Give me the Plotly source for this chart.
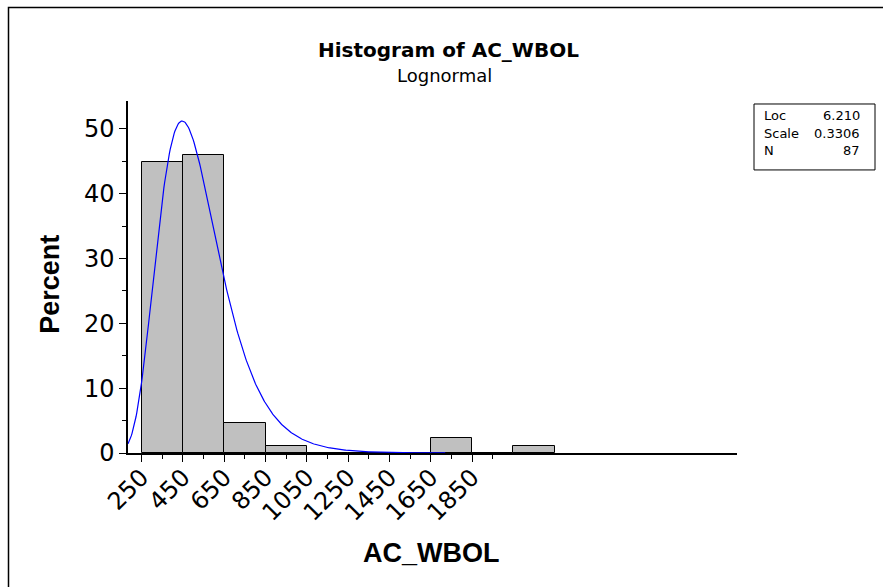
import numpy as np
import plotly.graph_objects as go

# Histogram bins (lower edges) and observation counts
bin_starts = [250, 450, 650, 850, 1050, 1250, 1450, 1650, 1850, 2050]
counts = [39, 40, 4, 1, 0, 0, 0, 2, 0, 1]
bin_width = 200
n_obs = 87

# Fitted lognormal parameters
loc = 6.210
scale = 0.3306

x_ticks = [250, 450, 650, 850, 1050, 1250, 1450, 1650, 1850]
x_minor = [350, 550, 750, 950, 1150, 1350, 1550, 1750, 1950]
y_ticks = [0, 10, 20, 30, 40, 50]
y_minor = [5, 15, 25, 35, 45]

centers = [s + bin_width / 2 for s in bin_starts]
percents = [c / n_obs * 100 for c in counts]

# Fitted density scaled to percent per bin
xs = np.linspace(184, 1720, 400)
pdf = np.exp(-(np.log(xs) - loc) ** 2 / (2 * scale ** 2)) / (xs * scale * np.sqrt(2 * np.pi))
curve = pdf * bin_width * 100

FONT = "DejaVu Sans"
LABEL_FONT = "Liberation Sans"

fig = go.Figure()
fig.add_trace(go.Bar(
    x=centers, y=percents, width=bin_width,
    marker=dict(color="#C0C0C0", line=dict(color="black", width=1)),
    hoverinfo="skip",
))
fig.add_trace(go.Scatter(
    x=xs, y=curve, mode="lines",
    line=dict(color="#0000FF", width=1.2),
    hoverinfo="skip",
))

fig.update_layout(
    width=883, height=587,
    margin=dict(l=128, r=146, t=101, b=134),
    paper_bgcolor="white", plot_bgcolor="white",
    showlegend=False,
    bargap=0,
    font=dict(family=FONT, color="black"),
    xaxis=dict(
        range=[183.7, 3133],
        tickmode="array", tickvals=x_ticks, ticktext=[str(v) for v in x_ticks],
        tickangle=-45,
        ticks="outside", ticklen=7, tickwidth=1, tickcolor="black",
        minor=dict(tickmode="array", tickvals=x_minor, ticks="outside",
                   ticklen=4, tickwidth=1, tickcolor="black"),
        showline=True, linecolor="black", linewidth=1.5,
        showgrid=False, zeroline=False,
        ticklabelstandoff=-8,
        tickfont=dict(family=FONT, size=24, color="black"),
    ),
    yaxis=dict(
        range=[0, 54.3],
        tickmode="array", tickvals=y_ticks,
        ticks="outside", ticklen=7, tickwidth=1, tickcolor="black",
        minor=dict(tickmode="array", tickvals=y_minor, ticks="outside",
                   ticklen=4, tickwidth=1, tickcolor="black"),
        showline=True, linecolor="black", linewidth=1.5,
        showgrid=False, zeroline=False,
        tickfont=dict(family=FONT, size=24, color="black"),
    ),
)

def paper_x(px):
    return (px - 128) / (737 - 128)

def paper_y(py):
    return (453.3 - py) / (453.3 - 101)

annotations = [
    dict(text="<b>Histogram of AC_WBOL</b>", x=paper_x(448), y=paper_y(50),
         font=dict(size=20)),
    dict(text="Lognormal", x=paper_x(444), y=paper_y(75), font=dict(size=18)),
    dict(text="<b>Percent</b>", x=paper_x(50), y=paper_y(285), textangle=-90,
         font=dict(family=LABEL_FONT, size=27)),
    dict(text="<b>AC_WBOL</b>", x=paper_x(431), y=paper_y(553),
         font=dict(family=LABEL_FONT, size=27)),
]
# Parameter table
rows = [("Loc", "6.210"), ("Scale", "0.3306"), ("N", str(n_obs))]
for i, (k, v) in enumerate(rows):
    yy = paper_y(116 + i * 17.5)
    annotations.append(dict(text=k, x=paper_x(762), y=yy, xanchor="left",
                            font=dict(size=13)))
    annotations.append(dict(text=v, x=paper_x(862), y=yy, xanchor="right",
                            font=dict(size=13)))
for a in annotations:
    a.update(xref="paper", yref="paper", showarrow=False)
    a.setdefault("xanchor", "center")
    a["yanchor"] = "middle"
fig.update_layout(annotations=annotations)

fig.add_shape(type="rect", xref="paper", yref="paper",
              x0=paper_x(754), x1=paper_x(875), y0=paper_y(170), y1=paper_y(104),
              line=dict(color="black", width=1))
# Outer frame
fig.add_shape(type="rect", xref="paper", yref="paper",
              x0=paper_x(8.5), x1=paper_x(1000), y0=paper_y(700), y1=paper_y(7.5),
              line=dict(color="black", width=1.5))

fig.write_html("out.html")
